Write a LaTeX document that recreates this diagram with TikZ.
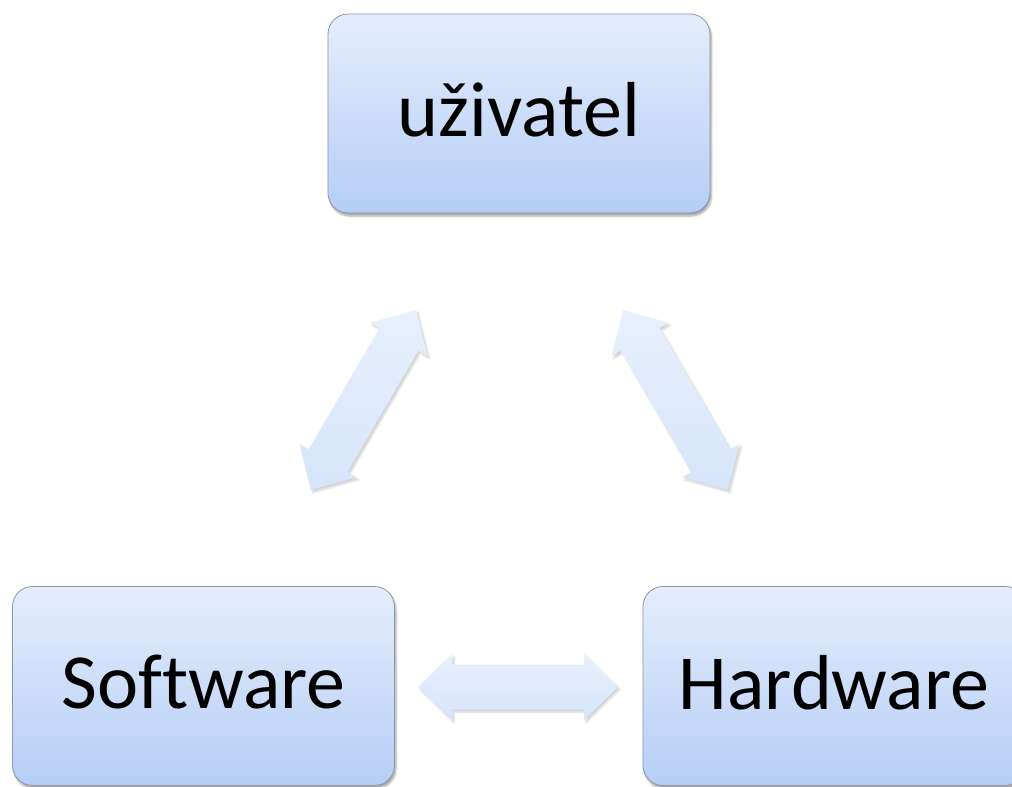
\documentclass[tikz,border=0pt]{standalone}
\usepackage{fontspec}
\setmainfont[Ligatures=CommonOff]{Carlito}
\usetikzlibrary{calc,shadows.blur}

\definecolor{boxtop}{RGB}{229,237,252}
\definecolor{boxbot}{RGB}{180,206,246}
\definecolor{boxline}{RGB}{140,150,168}
\definecolor{arrtop}{RGB}{233,240,253}
\definecolor{arrbot}{RGB}{214,228,250}

\tikzset{
  role/.style={rectangle, rounded corners=20pt, draw=boxline, line width=0.8pt,
    top color=boxtop, bottom color=boxbot,
    minimum width=382pt, minimum height=199pt, inner sep=0pt,
    text height=45pt, text depth=0pt,
    font=\fontsize{78}{90}\selectfont,
    blur shadow={shadow xshift=1.5pt, shadow yshift=-3pt, shadow blur steps=6, shadow opacity=35}},
  link/.style={draw=none, top color=arrtop, bottom color=arrbot,
    blur shadow={shadow xshift=2pt, shadow yshift=-2.5pt, shadow blur steps=6, shadow opacity=18}}
}

% two-headed block arrow between tips #1 and #2
\newcommand\bidir[2]{%
  \path[link]
    (#1)
    -- ($(#1)!34pt!(#2)!33pt!90:(#2)$)
    -- ($(#1)!34pt!(#2)!22.5pt!90:(#2)$)
    -- ($(#2)!34pt!(#1)!22.5pt!-90:(#1)$)
    -- ($(#2)!34pt!(#1)!33pt!-90:(#1)$)
    -- (#2)
    -- ($(#2)!34pt!(#1)!33pt!90:(#1)$)
    -- ($(#2)!34pt!(#1)!22.5pt!90:(#1)$)
    -- ($(#1)!34pt!(#2)!22.5pt!-90:(#2)$)
    -- ($(#1)!34pt!(#2)!33pt!-90:(#2)$)
    -- cycle;}

\begin{document}
\begin{tikzpicture}[x=1pt, y=-1pt]
  \useasboundingbox (0,0) rectangle (1012,787);
  \begin{scope}
    \clip (0,0) rectangle (1012,787);

    \node[role] (user) at (519,113.5) {uživatel};
    \node[role, text height=44pt] (sw) at (203.5,686) {Software};
    \node[role, text height=47pt] (hw) at (834,686) {Hardware};

    \coordinate (usw) at (416,310);
    \coordinate (swu) at (311,490);
    \coordinate (uhw) at (623,310);
    \coordinate (hwu) at (728,490);
    \coordinate (swhw) at (418,687);
    \coordinate (hwsw) at (618,687);

    \bidir{usw}{swu}
    \bidir{uhw}{hwu}
    \bidir{swhw}{hwsw}
  \end{scope}
\end{tikzpicture}
\end{document}
